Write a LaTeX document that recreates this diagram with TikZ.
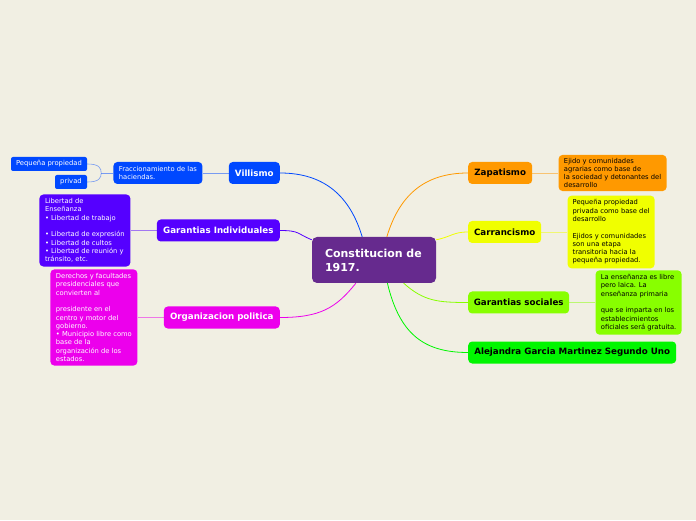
\documentclass[tikz,border=0pt]{standalone}
\usepackage{fontspec}
\setmainfont{DejaVu Sans}
\usetikzlibrary{positioning}
\definecolor{paperBg}{HTML}{F1EFE3}
\definecolor{rootPurple}{HTML}{662A8E}
\definecolor{villaBlue}{HTML}{0048FF}
\definecolor{indivViolet}{HTML}{5500FF}
\definecolor{orgMagenta}{HTML}{EC00EC}
\definecolor{zapOrange}{HTML}{FF9900}
\definecolor{carrYellow}{HTML}{F0FF00}
\definecolor{socLime}{HTML}{88FF00}
\definecolor{aleGreen}{HTML}{00F600}
\tikzset{
  topic/.style={fill=#1, rounded corners=4pt, minimum height=22pt, inner sep=0pt,
                font=\bfseries\fontsize{8.7}{10}\selectfont},
  note/.style={fill=#1, rounded corners=4pt, align=left, inner xsep=5pt, inner ysep=4pt,
               font=\fontsize{6.75}{8.3}\selectfont},
  tag/.style={fill=villaBlue, text=white, rounded corners=2pt, minimum height=14pt,
              inner sep=0pt, font=\fontsize{6.8}{8}\selectfont},
  branch/.style={line width=0.8pt},
  twig/.style={line width=0.6pt, draw opacity=0.5},
}
\begin{document}
\begin{tikzpicture}[x=1pt, y=1pt, node distance=26pt]
\fill[paperBg] (0,0) rectangle (696,520);
\useasboundingbox (0,0) rectangle (696,520);

% root
\node[fill=rootPurple, text=white, rounded corners=5pt, minimum height=46pt,
      inner xsep=13pt, text width=98pt, align=left, font=\bfseries\fontsize{11}{14}\selectfont] (root) at (374,260)
  {Constitucion de\\1917.};

% left side
\node[topic=villaBlue, text=white, minimum width=51pt, anchor=east] (villa) at (280,347) {Villismo};
\node[topic=indivViolet, text=white, minimum width=123pt, anchor=east] (indiv) at (280,289.5) {Garantias Individuales};
\node[topic=orgMagenta, text=white, minimum width=116pt, anchor=east] (org) at (280,202.5) {Organizacion politica};

\node[note=villaBlue, text=white, minimum height=22pt, minimum width=89pt, left=of villa]
  (fracc) {Fraccionamiento de las\\haciendas.};
\node[tag, minimum width=76pt, anchor=east] (pequena) at ([xshift=-26pt, yshift=9pt]fracc.west) {Pequeña propiedad};
\node[tag, minimum width=32pt, anchor=east] (privad) at ([xshift=-26pt, yshift=-9pt]fracc.west) {privad};
\coordinate (split) at ([xshift=-12pt]fracc.west);

\node[note=indivViolet, text=white, minimum width=91pt, left=of indiv] (libertad)
  {Libertad de\\Enseñanza\\• Libertad de trabajo\\[8.3pt]• Libertad de expresión\\• Libertad de cultos\\• Libertad de reunión y\\tránsito, etc.};
\node[note=orgMagenta, text=white, minimum width=87pt, left=of org] (derechos)
  {Derechos y facultades\\presidenciales que\\convierten al\\[8.3pt]presidente en el\\centro y motor del\\gobierno.\\• Municipio libre como\\base de la\\organización de los\\estados.};

% right side
\node[topic=zapOrange, minimum width=64pt, anchor=west] (zap) at (468,347) {Zapatismo};
\node[topic=carrYellow, minimum width=73pt, anchor=west] (carr) at (468,288) {Carrancismo};
\node[topic=socLime, minimum width=101pt, anchor=west] (gsoc) at (468,217.5) {Garantias sociales};
\node[topic=aleGreen, minimum width=208pt, anchor=west] (ale) at (468,167.5) {Alejandra Garcia Martinez Segundo Uno};

\node[note=zapOrange, minimum width=108pt, inner ysep=3pt, right=of zap] (ejido)
  {Ejido y comunidades\\agrarias como base de\\la sociedad y detonantes del\\desarrollo};
\node[note=carrYellow, minimum width=87pt, right=of carr] (privada)
  {Pequeña propiedad\\privada como base del\\desarrollo\\[8.3pt]Ejidos y comunidades\\son una etapa\\transitoria hacia la\\pequeña propiedad.};
\node[note=socLime, minimum width=86pt, right=of gsoc] (laica)
  {La enseñanza es libre\\pero laica. La\\enseñanza primaria\\[8.3pt]que se imparta en los\\establecimientos\\oficiales será gratuita.};

% branches
\draw[branch, villaBlue] (root.117) .. controls +(-12,40) and +(45,0) .. (villa.east);
\draw[branch, indivViolet] (root.162) .. controls +(-15,6) and +(20,0) .. (indiv.east);
\draw[branch, orgMagenta] (root.232) .. controls +(-20,-25) and +(40,0) .. (org.east);
\draw[branch, zapOrange] (root.61) .. controls +(12,40) and +(-45,0) .. (zap.west);
\draw[branch, carrYellow] (root.18) .. controls +(15,3) and +(-15,0) .. (carr.west);
\draw[branch, socLime] (root.322) .. controls +(20,-18) and +(-30,0) .. (gsoc.west);
\draw[branch, aleGreen] (root.300) .. controls +(12,-50) and +(-45,0) .. (ale.west);

% twigs
\draw[twig, villaBlue] (villa.west) -- (fracc.east);
\draw[twig, villaBlue] (fracc.west) -- (split);
\draw[twig, villaBlue] (pequena.east) .. controls +(12,0) and +(0,5) .. (split);
\draw[twig, villaBlue] (privad.east) .. controls +(12,0) and +(0,-5) .. (split);
\draw[twig, indivViolet] (indiv.west) -- (libertad.east);
\draw[twig, orgMagenta] (org.west) -- (derechos.east);
\draw[twig, zapOrange] (zap.east) -- (ejido.west);
\draw[twig, carrYellow] (carr.east) -- (privada.west);
\draw[twig, socLime] (gsoc.east) -- (laica.west);
\end{tikzpicture}
\end{document}
